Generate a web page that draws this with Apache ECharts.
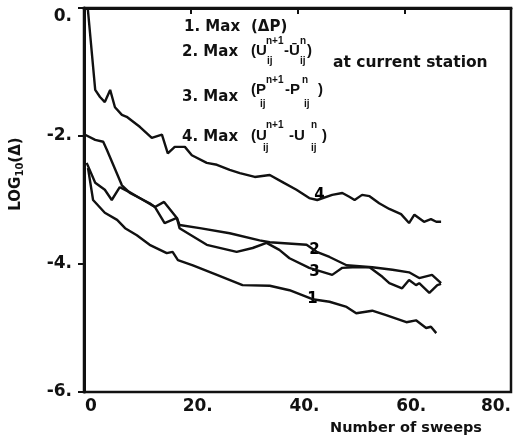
<!DOCTYPE html>
<html><head><meta charset="utf-8">
<script src="https://cdn.jsdelivr.net/npm/echarts@6/dist/echarts.min.js"></script>
<style>html,body{margin:0;padding:0;background:#fff}#c{width:514px;height:443px}</style>
</head><body><div id="c"></div>
<script>
// Curve 1: Max(ΔP)
const x1 = [0.75,1.7,3.9,6.2,7.7,9.9,12.3,15.5,16.6,17.6,20.4,24.9,29.7,34.8,38.5,42.8,46.0,49.2,51.0,54.0,56.6,60.4,62.2,64.1,65.0,66.0];
const y1 = [-2.5,-3.0,-3.2,-3.31,-3.44,-3.55,-3.70,-3.83,-3.81,-3.94,-4.02,-4.17,-4.33,-4.34,-4.41,-4.55,-4.59,-4.67,-4.77,-4.73,-4.80,-4.91,-4.88,-5.0,-4.98,-5.08];
// Curve 2
const x2 = [0.2,2.1,3.6,4.3,7.1,8.6,12.3,13.3,15.1,17.4,17.9,21.7,27.3,32.9,34.8,41.7,43.6,46.0,49.2,54.0,57.8,60.9,62.8,65.2,66.9];
const y2 = [-1.98,-2.06,-2.09,-2.22,-2.77,-2.89,-3.05,-3.11,-3.36,-3.28,-3.39,-3.44,-3.52,-3.63,-3.66,-3.70,-3.81,-3.89,-4.02,-4.05,-4.09,-4.13,-4.22,-4.17,-4.30];
// Curve 3
const x3 = [0.5,2.1,3.9,5.2,6.7,8.6,13.3,15.0,17.4,17.9,23.0,28.6,31.6,34.2,36.6,38.5,42.2,46.5,48.4,50.3,53.5,55.9,57.2,59.6,60.9,62.2,62.8,64.7,66.2,66.9];
const y3 = [-2.42,-2.73,-2.84,-3.0,-2.80,-2.88,-3.11,-3.03,-3.28,-3.44,-3.70,-3.81,-3.75,-3.67,-3.78,-3.91,-4.06,-4.17,-4.06,-4.05,-4.05,-4.20,-4.30,-4.38,-4.25,-4.33,-4.30,-4.45,-4.33,-4.31];
// Curve 4
const x4 = [0.7,2.1,3.0,3.9,4.9,5.8,7.1,8.0,10.5,12.7,14.6,15.7,17.0,18.9,20.2,23.0,24.9,27.3,29.2,32.0,34.8,37.2,39.8,42.2,43.7,46.5,48.4,49.7,50.7,52.1,53.5,55.3,57.2,59.4,60.9,61.9,63.7,65.0,66.0,66.9];
const y4 = [0.0,-1.28,-1.39,-1.47,-1.28,-1.55,-1.67,-1.70,-1.86,-2.03,-1.98,-2.27,-2.17,-2.17,-2.30,-2.42,-2.45,-2.53,-2.58,-2.64,-2.61,-2.72,-2.84,-2.97,-3.0,-2.92,-2.89,-2.95,-3.0,-2.92,-2.94,-3.05,-3.14,-3.22,-3.36,-3.23,-3.34,-3.30,-3.34,-3.34];
// Curve number labels
const curveNames = ['4','2','3','1'];
const labelX = [44.1,43.2,43.2,42.8];
const labelY = [-2.92,-3.78,-4.13,-4.55];
const xTickLabels = {0:'0',20:'20.',40:'40.',60:'60.',80:'80.'};
const yTickLabels = {0:'0.','-2':'-2.','-4':'-4.','-6':'-6.'};

const zip = (xs, ys) => xs.map((x, i) => [x, ys[i]]);
const FONT = 'DejaVu Sans';
const FF = 'Liberation Sans';
const lineStyle = {color:'#111', width:2.4};
const mk = (xs, ys) => ({type:'line', data: zip(xs, ys), showSymbol:false, symbol:'none', lineStyle, smooth:false, animation:false, clip:true});

const chart = echarts.init(document.getElementById('c'), null, {renderer:'canvas'});
const T = (text, x, y, size, font) => ({type:'text', x, y, style:{text, fontFamily:font||FONT, fontWeight:'bold', fontSize:size, fill:'#111', verticalAlign:'middle'}});
const graphics = [
  // legend line 1
  T('1. Max', 184, 27, 15), T('(ΔP)', 251, 27, 15),
  // line 2
  T('2. Max', 182, 52, 15), T('(U', 251, 51, 15, FF), T('n+1', 266, 41, 10, FF), T('ij', 267, 61, 10, FF),
  T('-Ū', 284, 51, 15, FF), T('n', 300, 41, 10, FF), T('ij', 300, 61, 10, FF), T(')', 307, 51, 15, FF),
  T('at current station', 333, 63, 15.5),
  // line 3
  T('3. Max', 182, 97, 15), T('(P', 251, 90, 15, FF), T('n+1', 266, 80, 10, FF), T('ij', 260, 104, 10, FF),
  T('-P', 285, 90, 15, FF), T('n', 302, 80, 10, FF), T('ij', 304, 104, 10, FF), T(')', 318, 90, 15, FF),
  // line 4
  T('4. Max', 182, 137, 15), T('(U', 251, 136, 15, FF), T('n+1', 266, 125, 10, FF), T('ij', 263, 148, 10, FF),
  T('-U', 289, 136, 15, FF), T('n', 311, 125, 10, FF), T('ij', 311, 148, 10, FF), T(')', 322, 136, 15, FF),
  // y axis name
  {type:'text', x:16, y:174, rotation:Math.PI/2, style:{text:'{a|LOG}{b|10}{a|(Δ)}', fontFamily:FONT, fontWeight:'bold', fill:'#111', align:'center', verticalAlign:'middle',
    rich:{a:{fontFamily:FONT, fontWeight:'bold', fontSize:15}, b:{fontFamily:FONT, fontWeight:'bold', fontSize:10, padding:[8,0,0,0]}}}},
  // x axis name
  T('Number of sweeps', 330, 428, 14.5)
];

chart.setOption({
  backgroundColor:'#fff',
  animation:false,
  grid:{left:84, top:8, right:3, bottom:51, show:true, borderColor:'#111', borderWidth:2.5, backgroundColor:'transparent', containLabel:false, outerBoundsMode:'none'},
  xAxis:{type:'value', min:0, max:80, interval:20,
    axisLine:{show:true, lineStyle:{color:'#111', width:3}},
    axisTick:{show:true, inside:false, length:6, lineStyle:{color:'#111', width:2}},
    splitLine:{show:false},
    axisLabel:{color:'#111', fontFamily:FONT, fontWeight:'bold', fontSize:17, margin:6, padding:[0,0,0,14], hideOverlap:false, alignMaxLabel:'right',
      formatter:v => xTickLabels[v] ?? ''}},
  yAxis:{type:'value', min:-6, max:0, interval:2,
    axisLine:{show:true, lineStyle:{color:'#111', width:3}},
    axisTick:{show:true, inside:false, length:6, lineStyle:{color:'#111', width:2}},
    splitLine:{show:false},
    axisLabel:{color:'#111', fontFamily:FONT, fontWeight:'bold', fontSize:17, margin:12,
      formatter:v => v === 0 ? '{t|0.}' : (yTickLabels[String(v)] ?? ''),
      rich:{t:{fontFamily:FONT, fontWeight:'bold', fontSize:17, color:'#111', padding:[18,0,0,0]}}}},
  series:[
    mk(x1, y1), mk(x2, y2), mk(x3, y3), mk(x4, y4),
    {type:'scatter', symbolSize:0, itemStyle:{opacity:1}, data: curveNames.map((n,i)=>({value:[labelX[i], labelY[i]], name:n})),
      label:{show:true, position:'inside', formatter:p=>p.name, fontFamily:FONT, fontWeight:'bold', fontSize:15, color:'#000', opacity:1}, emphasis:{disabled:true}, silent:true}
  ],
  graphic: graphics
});
</script></body></html>
